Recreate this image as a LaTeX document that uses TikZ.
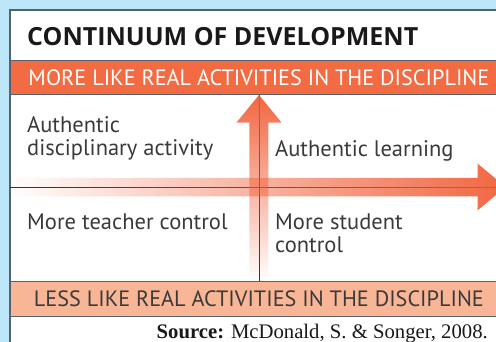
\documentclass[tikz,border=0pt]{standalone}
\usepackage{fontspec}
\setmainfont{Liberation Serif}
\setsansfont{PT Sans}
\newfontfamily\headfont{Open Sans}
\usetikzlibrary{positioning,fadings}

\definecolor{skyback}{HTML}{BDE7F9}
\definecolor{bandred}{HTML}{F26B43}
\definecolor{bandpeach}{HTML}{F8B696}
\definecolor{arrowred}{HTML}{F05A32}
\definecolor{framegray}{HTML}{56626A}
\definecolor{inkgray}{HTML}{3A3A3A}

\tikzfading[name=fade right, left color=transparent!100, right color=transparent!0]
\tikzfading[name=fade up, bottom color=transparent!100, top color=transparent!0]

\begin{document}
\begin{tikzpicture}[
    x=1pt, y=-1pt,
    band/.style={
        draw=framegray,
        line width=0.8pt,
        anchor=north west,
        minimum width=497pt,
        minimum height=34pt,
        inner sep=0pt,
        font=\sffamily\fontsize{22.2}{22.2}\selectfont
    },
    cell/.style={
        anchor=base west,
        align=left,
        inner sep=0pt,
        text=inkgray,
        font=\sffamily\fontsize{22.5}{23}\selectfont
    },
    grid/.style={draw=black!80, line width=0.8pt},
    bigarrow/.style={fill=arrowred, fill opacity=0.92}
]
\useasboundingbox (0,0) rectangle (496,342);
\clip (0,0) rectangle (496,342);

% Background and panel
\fill[skyback] (0,0) rectangle (496,342);
\filldraw[fill=white, draw=framegray, line width=1.2pt] (10,10) rectangle (520,360);

\coordinate (cross) at (259,187.5);
\coordinate (east) at (500,187.5);

% Main nodes
\node[anchor=base west, inner sep=0pt, text=black!90,
      font=\headfont\bfseries\fontsize{25}{25}\selectfont] (title) at (27,46) {CONTINUUM OF DEVELOPMENT};

\node[band, fill=bandred, text=white] (more) at (10,60) {MORE LIKE REAL ACTIVITIES IN THE DISCIPLINE};
\node[band, fill=bandpeach, text=inkgray, minimum height=35pt] (less) at (10,281) {LESS LIKE REAL ACTIVITIES IN THE DISCIPLINE};

% Grid lines
\draw[grid] (cross |- more.south) -- (cross |- less.north);
\draw[grid] (10,187.5) -- (east);

% Arrows
\fill[bigarrow, path fading=fade right]
    (10,178) -- (478,178) -- (478,163.5) -- (506,187) -- (478,210.5) -- (478,196.5) -- (10,196.5) -- cycle;
\fill[bigarrow, path fading=fade up]
    (249.5,281) -- (249.5,122.5) -- (236.5,122.5) -- (259,95) -- (281.5,122.5) -- (268.5,122.5) -- (268.5,281) -- cycle;

% Quadrant texts
\node[cell] (authdisc) at (27,156) {Authentic\\disciplinary activity};
\node[cell] (authlearn) at (275,157) {Authentic learning};
\node[cell] (teacher) at (27,230) {More teacher control};
\node[cell] (student) at (275,253) {More student\\control};

% Source
\node[anchor=base east, inner sep=0pt, text=black!90,
      font=\rmfamily\fontsize{20.7}{20.7}\selectfont] (source) at (488,338) {\textbf{Source:} McDonald, S. \& Songer, 2008.};

\end{tikzpicture}
\end{document}
